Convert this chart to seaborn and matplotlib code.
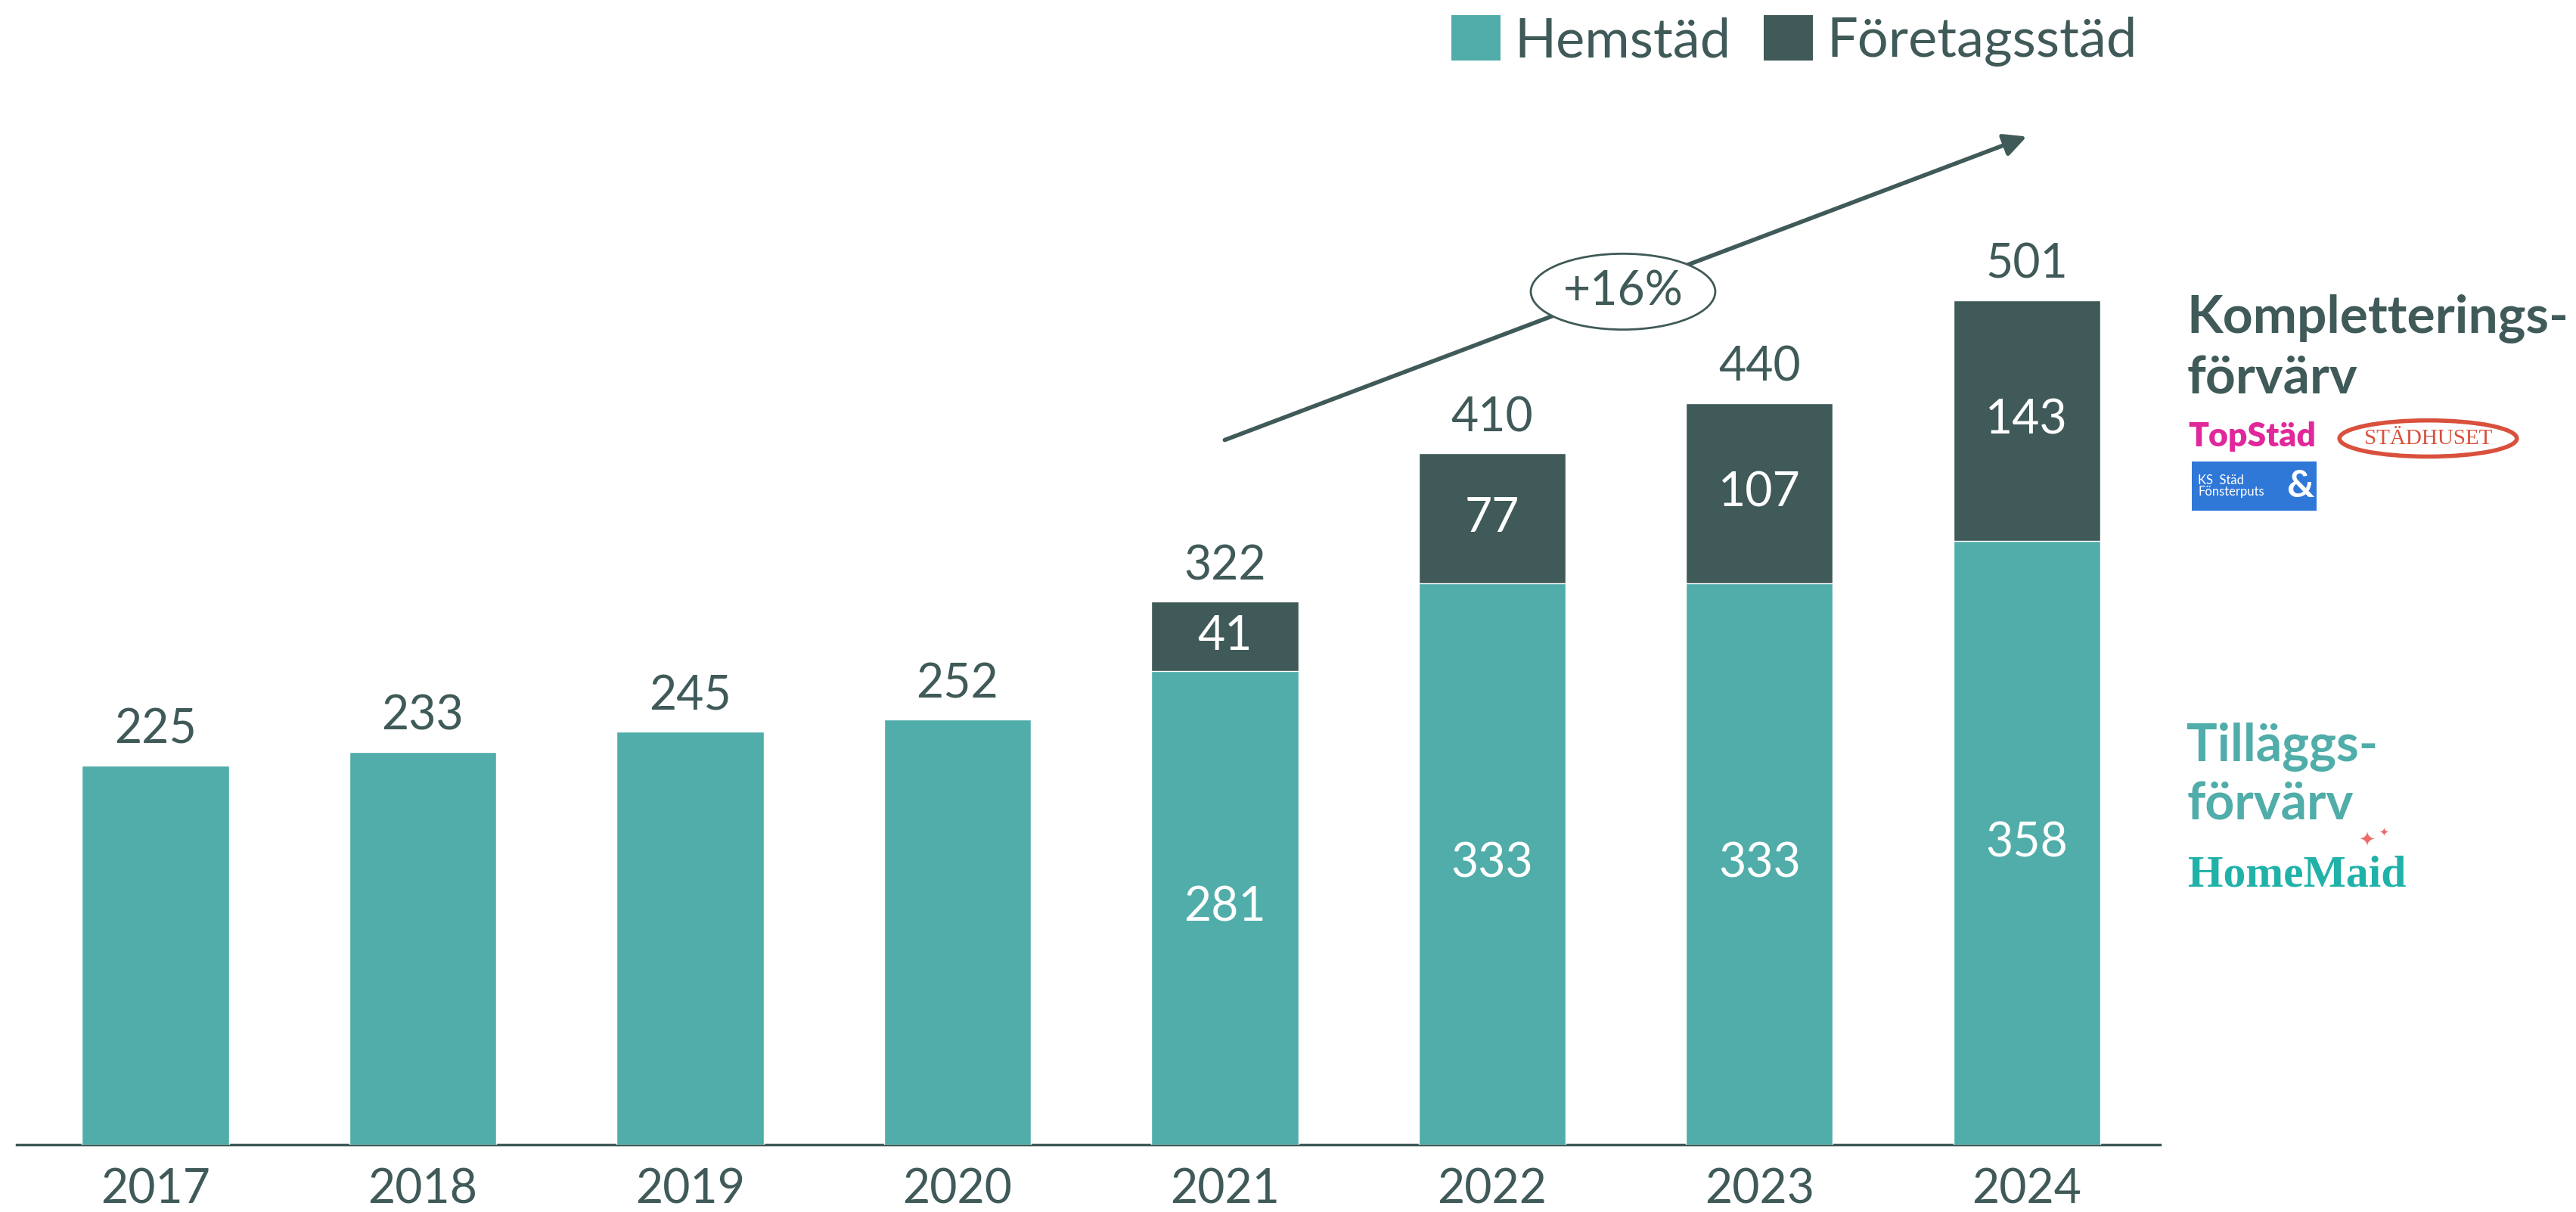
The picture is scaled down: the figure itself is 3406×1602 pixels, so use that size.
import matplotlib.pyplot as plt
import numpy as np
import seaborn as sns
from matplotlib.patches import Ellipse, Patch, Rectangle

years = ["2017", "2018", "2019", "2020", "2021", "2022", "2023", "2024"]
hemstad = [225, 233, 245, 252, 281, 333, 333, 358]
foretag = [0, 0, 0, 0, 41, 77, 107, 143]
totals = [h + f for h, f in zip(hemstad, foretag)]
growth_label = "+16%"

TEAL = "#50ADA9"
DARK = "#3F5A58"

sns.set_theme(style="white")
plt.rcParams["font.family"] = ["Lato", "DejaVu Sans"]

W, H = 1568, 738  # layout grid of the reference (scaled)


def fx(x):
    return x / W


def fy(y):
    return 1 - y / H


fig = plt.figure(figsize=(34.06, 16.02), dpi=100)
ax = fig.add_axes([fx(10), 41 / H, (1315 - 10) / W, 697 / H])

# stacked bars: totals in dark, hemstäd drawn over them in teal
sns.barplot(x=years, y=totals, color=DARK, width=0.55, saturation=1, ax=ax, zorder=2)
sns.barplot(x=years, y=hemstad, color=TEAL, width=0.55, saturation=1, ax=ax, zorder=3)

ax.set_xlim(-0.52, 7.5)
ax.set_ylim(0, 679)
ax.set_yticks([])
ax.set_xlabel("")
ax.set_ylabel("")
for side in ("top", "right", "left"):
    ax.spines[side].set_visible(False)
ax.spines["bottom"].set_color(DARK)
ax.spines["bottom"].set_linewidth(2.5)
ax.tick_params(axis="x", length=0, pad=22, labelsize=45, labelcolor=DARK)

for i, (h, f, t) in enumerate(zip(hemstad, foretag, totals)):
    ax.text(i, t + 8, str(t), ha="center", va="bottom", fontsize=45, color=DARK, zorder=5)
    if f > 0:
        ax.text(i, h / 2, str(h), ha="center", va="center", fontsize=45, color="white", zorder=5)
        ax.text(i, h + f / 2, str(f), ha="center", va="center", fontsize=45, color="white", zorder=5)

# growth arrow with the ellipse label
ax.annotate("", xy=(7.0, 598), xytext=(4.0, 418), annotation_clip=False,
            arrowprops=dict(arrowstyle="-|>", color=DARK, lw=4, mutation_scale=45, shrinkA=0, shrinkB=0),
            zorder=6)
ax.add_patch(Ellipse((5.49, 506), width=0.69, height=45, facecolor="white", edgecolor=DARK,
                     lw=2, zorder=7, clip_on=False))
ax.text(5.49, 506, growth_label, ha="center", va="center", fontsize=45, color=DARK, zorder=8)

# legend
handles = [Patch(facecolor=TEAL, edgecolor="none", label="Hemstäd"),
           Patch(facecolor=DARK, edgecolor="none", label="Företagsstäd")]
fig.legend(handles=handles, loc="center left", bbox_to_anchor=(fx(867), fy(25)), ncol=2, frameon=False,
           fontsize=52, labelcolor=DARK, handlelength=0.9, handleheight=0.9,
           handletextpad=0.25, columnspacing=0.6, borderpad=0)

# right side annotations
fig.text(fx(1331), fy(194), "Kompletterings-", fontsize=50, fontweight="bold", color=DARK, va="center")
fig.text(fx(1331), fy(231), "förvärv", fontsize=50, fontweight="bold", color=DARK, va="center")
fig.text(fx(1331), fy(455), "Tilläggs-", fontsize=49, fontweight="bold", color=TEAL, va="center")
fig.text(fx(1331), fy(490), "förvärv", fontsize=49, fontweight="bold", color=TEAL, va="center")

# logo stand-ins
fig.text(fx(1332), fy(266), "TopStäd", fontsize=32, fontweight="heavy", color="#E0289B", va="center")
fig.add_artist(Ellipse((fx(1478), fy(267)), width=108 / W, height=22 / H, transform=fig.transFigure,
                       facecolor="none", edgecolor="#D9503C", lw=4))
fig.text(fx(1478), fy(267), "STÄDHUSET", fontsize=21, family="Liberation Serif", color="#D9503C",
         ha="center", va="center")
fig.add_artist(Rectangle((fx(1334), fy(311)), 76 / W, 30 / H, transform=fig.transFigure,
                         facecolor="#2F78D8", edgecolor="none"))
fig.text(fx(1338), fy(296), "KS  Städ\nFönsterputs", fontsize=12, color="white", va="center",
         linespacing=0.95)
fig.text(fx(1400), fy(296), "&", fontsize=36, fontweight="bold", color="white", va="center", ha="center")
fig.text(fx(1332), fy(533), "HomeMaid", fontsize=43, fontweight="bold", family="Liberation Serif",
         color="#20B2A8", va="center")
fig.text(fx(1441), fy(512), "✦", fontsize=19, color="#EE6B6B", family="DejaVu Sans", va="center", ha="center")
fig.text(fx(1451), fy(507), "✦", fontsize=11, color="#EE6B6B", family="DejaVu Sans", va="center", ha="center")

fig.savefig("out.png", dpi=100)
